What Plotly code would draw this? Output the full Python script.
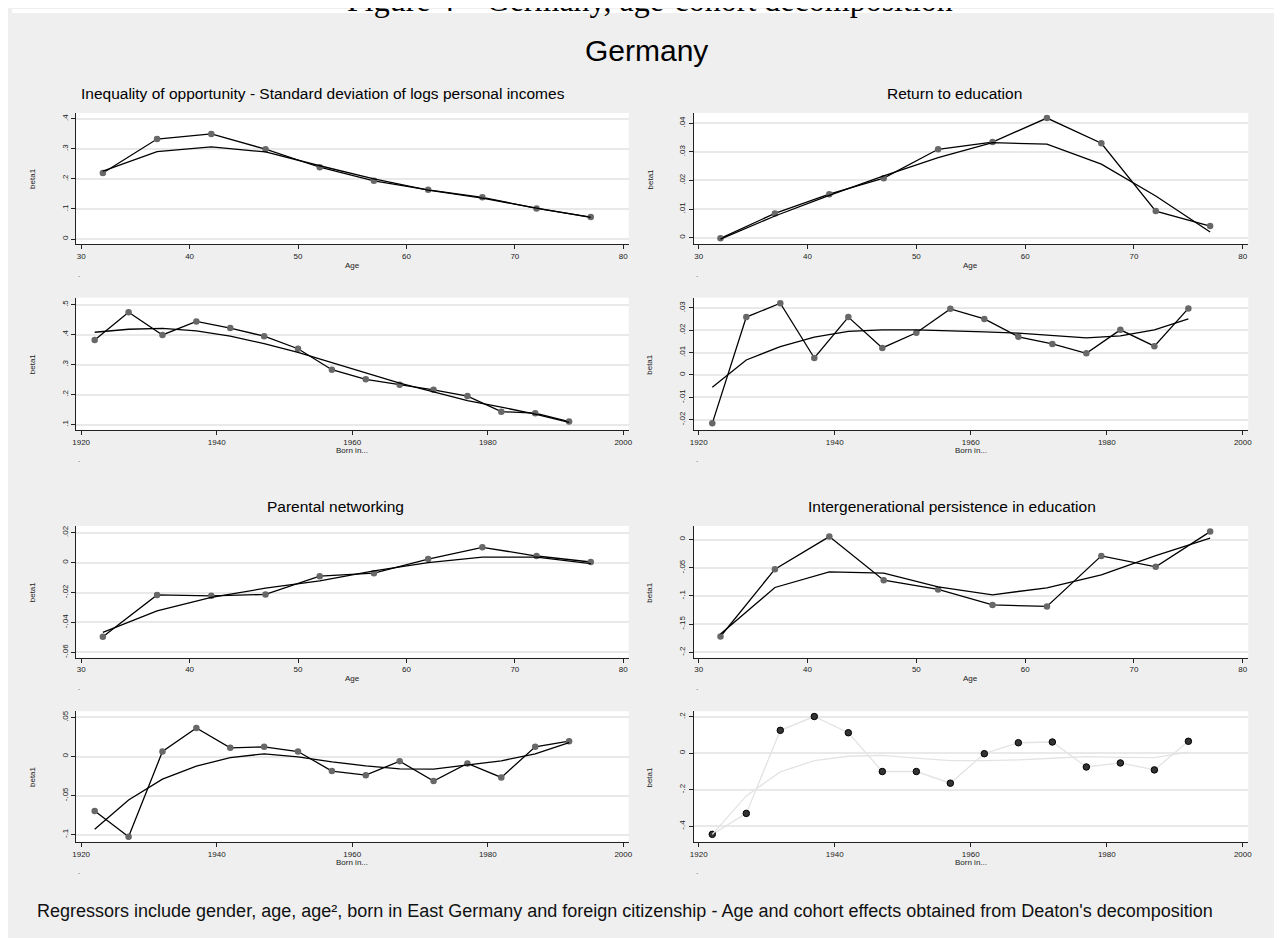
import plotly.graph_objects as go

W, H = 1282, 938
OFF = 8  # the page body adds an 8 px margin, positions below are page pixels

ages = [32, 37, 42, 47, 52, 57, 62, 67, 72, 77]
cohorts = [1922, 1927, 1932, 1937, 1942, 1947, 1952, 1957, 1962, 1967, 1972, 1977, 1982, 1987, 1992]

# inequality of opportunity (sd of log personal incomes)
ineq_age_obs = [0.220, 0.333, 0.350, 0.299, 0.239, 0.194, 0.164, 0.139, 0.102, 0.073]
ineq_age_fit = [0.226, 0.291, 0.307, 0.290, 0.244, 0.200, 0.163, 0.136, 0.103, 0.072]
ineq_coh_obs = [0.382, 0.475, 0.399, 0.444, 0.422, 0.395, 0.353, 0.283, 0.251, 0.233, 0.216, 0.195, 0.143, 0.138, 0.110]
ineq_coh_fit = [0.408, 0.418, 0.421, 0.413, 0.395, 0.370, 0.341, 0.307, 0.272, 0.238, 0.209, 0.180, 0.158, 0.135, 0.107]

# return to education
ret_age_obs = [-0.0002, 0.0085, 0.0152, 0.0208, 0.0309, 0.0334, 0.0418, 0.0330, 0.0093, 0.0041]
ret_age_fit = [-0.0005, 0.0076, 0.0148, 0.0216, 0.0280, 0.0332, 0.0327, 0.0257, 0.0146, 0.0020]
ret_coh_obs = [-0.0217, 0.0259, 0.0321, 0.0076, 0.0259, 0.0121, 0.0189, 0.0296, 0.0251, 0.0171, 0.0139, 0.0097, 0.0202, 0.0129, 0.0298]
ret_coh_fit = [-0.0055, 0.0067, 0.0127, 0.0169, 0.0195, 0.0202, 0.0202, 0.0199, 0.0193, 0.0187, 0.0175, 0.0166, 0.0175, 0.0202, 0.0251]

# parental networking
net_age_obs = [-0.0496, -0.0216, -0.0222, -0.0213, -0.0091, -0.0071, 0.0024, 0.0102, 0.0044, 0.0004]
net_age_fit = [-0.0467, -0.0322, -0.0233, -0.0171, -0.0122, -0.0056, 0.0000, 0.0036, 0.0036, -0.0007]
net_coh_obs = [-0.0699, -0.1027, 0.0064, 0.0366, 0.0111, 0.0124, 0.0064, -0.0187, -0.0239, -0.0060, -0.0315, -0.0089, -0.0268, 0.0124, 0.0196]
net_coh_fit = [-0.0933, -0.0558, -0.0290, -0.0124, -0.0013, 0.0034, -0.0004, -0.0068, -0.0119, -0.0158, -0.0162, -0.0107, -0.0055, 0.0034, 0.0179]

# intergenerational persistence in education
edu_age_obs = [-0.172, -0.0525, 0.0053, -0.072, -0.0885, -0.116, -0.1186, -0.0289, -0.0484, 0.0142]
edu_age_fit = [-0.1676, -0.085, -0.0572, -0.0596, -0.0838, -0.098, -0.0855, -0.0625, -0.0283, 0.0024]
edu_coh_obs = [-0.445, -0.330, 0.126, 0.202, 0.113, -0.100, -0.100, -0.164, -0.002, 0.058, 0.062, -0.075, -0.053, -0.091, 0.066]
edu_coh_fit = [-0.445, -0.234, -0.102, -0.040, -0.016, -0.011, -0.026, -0.040, -0.040, -0.036, -0.027, -0.018, -0.022, -0.024, 0.007]

age_ticks = [30, 40, 50, 60, 70, 80]
cohort_ticks = [1920, 1940, 1960, 1980, 2000]

titles = ["Inequality of opportunity - Standard deviation of logs personal incomes",
          "Return to education", "Parental networking",
          "Intergenerational persistence in education"]
caption = ("Regressors include gender, age, age\u00b2, born in East Germany and foreign citizenship"
           " - Age and cohort effects obtained from Deaton's decomposition")

FONT = "Liberation Sans, Arial, sans-serif"


def fmt(v):
    s = "%g" % v
    if s.startswith("0."):
        s = s[1:]
    elif s.startswith("-0."):
        s = "-" + s[2:]
    return s


def px(x):
    return (x - OFF) / W


def py(y):
    return 1 - (y - OFF) / H


def note(text, x, y, size, color="#222", angle=0, xanchor="center", family=FONT):
    return dict(text=text, x=px(x), y=py(y), xref="paper", yref="paper", showarrow=False,
                xanchor=xanchor, yanchor="middle", textangle=angle,
                font=dict(family=family, size=size, color=color))


# pixel boxes of the plot regions
cols = [(72.6, 628.6), (694, 1252)]
rows = [(112, 243.3), (297, 429.3), (525.5, 657.3), (711, 841.7)]

# (x, obs, fit, yticks, yrange, row, col, grey_style)
panels = [
    (ages, ineq_age_obs, ineq_age_fit, [0, .1, .2, .3, .4], [-0.0167, 0.42], 0, 0, False),
    (ages, ret_age_obs, ret_age_fit, [0, .01, .02, .03, .04], [-0.0022, 0.0436], 0, 1, False),
    (cohorts, ineq_coh_obs, ineq_coh_fit, [.1, .2, .3, .4, .5], [0.0823, 0.5234], 1, 0, False),
    (cohorts, ret_coh_obs, ret_coh_fit, [-.02, -.01, 0, .01, .02, .03], [-0.0246, 0.0346], 1, 1, False),
    (ages, net_age_obs, net_age_fit, [-.06, -.04, -.02, 0, .02], [-0.0635, 0.0245], 2, 0, False),
    (ages, edu_age_obs, edu_age_fit, [-.2, -.15, -.1, -.05, 0], [-0.2094, 0.0242], 2, 1, False),
    (cohorts, net_coh_obs, net_coh_fit, [-.1, -.05, 0, .05], [-0.1093, 0.058], 3, 0, False),
    (cohorts, edu_coh_obs, edu_coh_fit, [-.4, -.2, 0, .2], [-0.486, 0.231], 3, 1, True),
]

fig = go.Figure()
annotations = []

for i, (xs, obs, fit, yt, yr, r, c, grey) in enumerate(panels):
    n = i + 1
    xa = "x" if n == 1 else "x%d" % n
    ya = "y" if n == 1 else "y%d" % n
    is_age = xs is ages
    line_col = "#e3e3e3" if grey else "black"
    fig.add_trace(go.Scatter(
        x=xs, y=obs, mode="lines+markers", xaxis=xa, yaxis=ya,
        line=dict(color=line_col, width=1.3),
        marker=dict(size=6.5, color="#333333" if grey else "#686868",
                    line=dict(color="black" if grey else "#686868", width=1 if grey else 0)),
        showlegend=False))
    fig.add_trace(go.Scatter(
        x=xs, y=fit, mode="lines", xaxis=xa, yaxis=ya,
        line=dict(color=line_col, width=1.3), showlegend=False))

    x0, x1 = cols[c]
    y0, y1 = rows[r]
    ticks = age_ticks if is_age else cohort_ticks
    xrange = [29.54, 80.5] if is_age else [1919.27, 2000.8]
    fig.layout["xaxis%d" % n] = dict(
        domain=[px(x0), px(x1)], anchor=ya, range=xrange,
        tickvals=ticks, ticktext=[str(t) for t in ticks],
        showgrid=False, zeroline=False, showline=True, linecolor="#222", linewidth=1.3,
        ticks="outside", ticklen=4, tickwidth=1, tickcolor="#222",
        tickfont=dict(family=FONT, size=8, color="#222"))
    fig.layout["yaxis%d" % n] = dict(
        domain=[py(y1), py(y0)], anchor=xa, range=yr,
        tickvals=yt, ticktext=[fmt(v) for v in yt], tickangle=-90,
        showgrid=True, gridcolor="#e9e9e9", gridwidth=1.5,
        zeroline=False, showline=True, linecolor="#222", linewidth=1.3,
        ticks="outside", ticklen=4, tickwidth=1, tickcolor="#222",
        tickfont=dict(family=FONT, size=8, color="#222"))

    # axis titles and the "." notes
    annotations.append(note("Age" if is_age else "Born in...", (x0 + x1) / 2, y1 + 21, 8))
    annotations.append(note("beta1", x0 - 44, (y0 + y1) / 2, 8, angle=-90))
    annotations.append(note(".", x0 + 3, y1 + 30, 8, color="#444"))

# panel titles
for t, cx, cy in zip(titles, [321, 956, 334, 954], [93, 93, 506, 506]):
    annotations.append(note(t, cx, cy, 15.5, color="black"))

annotations.append(note("Germany", 646, 50, 30, color="black"))
annotations.append(note(caption, 31, 911, 18, color="#111", xanchor="left"))
title = note("Figure 4 \u2013 Germany, age-cohort decomposition", 650, 19, 32, color="black",
             family="Liberation Serif, Times New Roman, serif")
title["yanchor"] = "bottom"
annotations.append(title)

fig.update_layout(
    width=W, height=H, margin=dict(l=0, r=0, t=0, b=0),
    paper_bgcolor="#efefef", plot_bgcolor="white",
    annotations=annotations,
    shapes=[
        dict(type="rect", xref="paper", yref="paper", x0=0, x1=1, y0=py(12), y1=1,
             fillcolor="white", line_width=0, layer="below"),
    ],
)

fig.write_html("out.html")
